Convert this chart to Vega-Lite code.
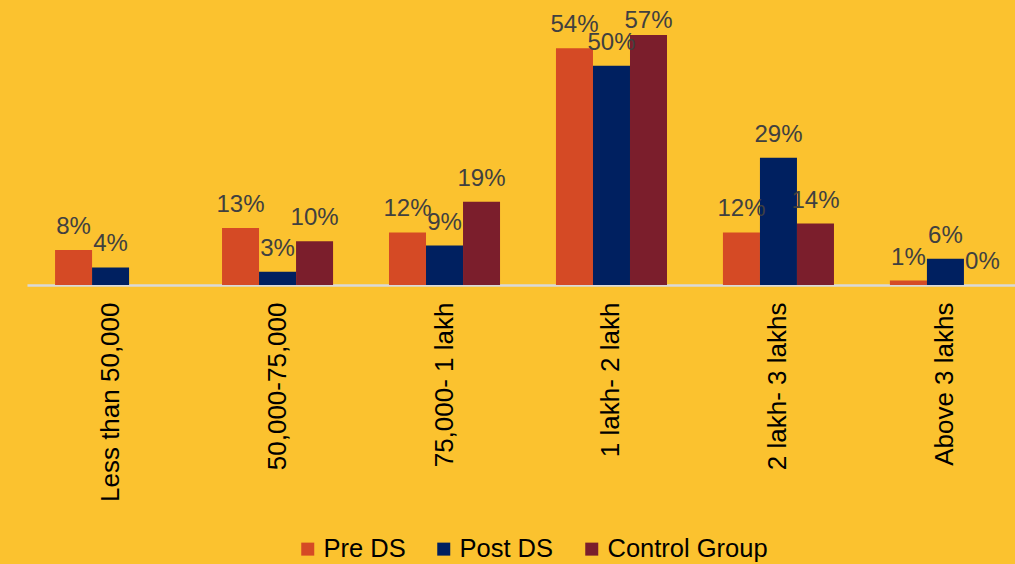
{
  "$schema": "https://vega.github.io/schema/vega-lite/v6.json",
  "autosize": {"type": "none"},
  "width": 988,
  "height": 285,
  "padding": {"left": 27, "top": 0, "right": 0, "bottom": 279},
  "background": "#FBC22F",
  "config": {
    "view": {"stroke": null},
    "font": "Liberation Sans"
  },
  "data": {
    "values": [
      {"band": "Less than 50,000", "group": "Pre DS", "share": 0.08},
      {"band": "Less than 50,000", "group": "Post DS", "share": 0.04},
      {"band": "50,000-75,000", "group": "Pre DS", "share": 0.13},
      {"band": "50,000-75,000", "group": "Post DS", "share": 0.03},
      {"band": "50,000-75,000", "group": "Control Group", "share": 0.10},
      {"band": "75,000- 1 lakh", "group": "Pre DS", "share": 0.12},
      {"band": "75,000- 1 lakh", "group": "Post DS", "share": 0.09},
      {"band": "75,000- 1 lakh", "group": "Control Group", "share": 0.19},
      {"band": "1 lakh- 2 lakh", "group": "Pre DS", "share": 0.54},
      {"band": "1 lakh- 2 lakh", "group": "Post DS", "share": 0.50},
      {"band": "1 lakh- 2 lakh", "group": "Control Group", "share": 0.57},
      {"band": "2 lakh- 3 lakhs", "group": "Pre DS", "share": 0.12},
      {"band": "2 lakh- 3 lakhs", "group": "Post DS", "share": 0.29},
      {"band": "2 lakh- 3 lakhs", "group": "Control Group", "share": 0.14},
      {"band": "Above 3 lakhs", "group": "Pre DS", "share": 0.01},
      {"band": "Above 3 lakhs", "group": "Post DS", "share": 0.06},
      {"band": "Above 3 lakhs", "group": "Control Group", "share": 0.00}
    ]
  },
  "encoding": {
    "x": {
      "field": "band",
      "type": "nominal",
      "sort": null,
      "scale": {"range": [0, 1002], "paddingInner": 0.335, "paddingOuter": 0.168},
      "axis": {
        "title": null,
        "labelAngle": 270,
        "labelAlign": "right",
        "labelBaseline": "middle",
        "labelFontSize": 26,
        "labelColor": "#000000",
        "labelPadding": 17,
        "labelLimit": 300,
        "ticks": false,
        "domainColor": "#D9D9D9",
        "domainWidth": 2.5
      }
    },
    "xOffset": {
      "field": "group",
      "type": "nominal",
      "sort": ["Pre DS", "Post DS", "Control Group"],
      "scale": {"domain": ["Pre DS", "Post DS", "Control Group"], "paddingInner": 0, "paddingOuter": 0}
    }
  },
  "layer": [
    {
      "mark": {"type": "bar"},
      "encoding": {
        "y": {
          "field": "share",
          "type": "quantitative",
          "scale": {"domain": [0, 0.65], "nice": false},
          "axis": null
        },
        "color": {
          "field": "group",
          "type": "nominal",
          "scale": {
            "domain": ["Pre DS", "Post DS", "Control Group"],
            "range": ["#D54A25", "#002060", "#7B1E2C"]
          },
          "legend": {
            "title": null,
            "orient": "none",
            "direction": "horizontal",
            "legendX": 268,
            "legendY": 536,
            "symbolType": "square",
            "symbolSize": 169,
            "symbolStrokeWidth": 0,
            "labelFontSize": 25.5,
            "labelColor": "#000000",
            "labelLimit": 300,
            "labelOffset": 3,
            "columnPadding": 25
          }
        }
      }
    },
    {
      "transform": [
        {"calculate": "min(datum.share, 0.55)", "as": "labelAt"}
      ],
      "mark": {"type": "text", "baseline": "alphabetic", "dy": -16, "fontSize": 24, "color": "#404040"},
      "encoding": {
        "y": {"field": "labelAt", "type": "quantitative", "scale": {"domain": [0, 0.65], "nice": false}},
        "text": {"field": "share", "type": "quantitative", "format": ".0%"}
      }
    }
  ]
}
